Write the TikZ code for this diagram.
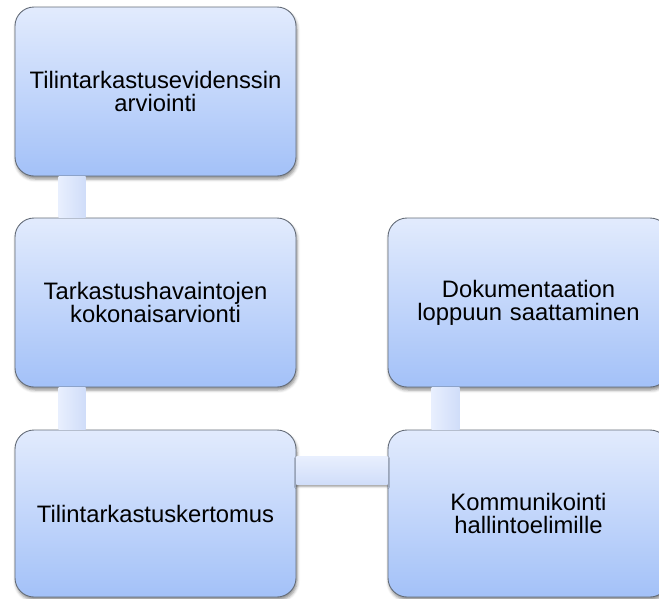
\documentclass[tikz,border=0pt]{standalone}
\usepackage{fontspec}
\setmainfont{Liberation Sans}
\usetikzlibrary{shadows.blur}
\definecolor{boxtop}{RGB}{226,235,253}
\definecolor{boxbot}{RGB}{163,193,248}
\definecolor{boxline}{RGB}{100,108,120}
\definecolor{conna}{RGB}{232,239,254}
\definecolor{connb}{RGB}{208,221,249}
\tikzset{
  stepbox/.style={draw=boxline, line width=0.9pt, rounded corners=19pt,
    top color=boxtop, bottom color=boxbot,
    minimum width=281pt, minimum height=169pt, inner sep=0pt,
    align=center, text width=270pt,
    font=\fontsize{23.8pt}{23pt}\selectfont,
    blur shadow={shadow xshift=1pt, shadow yshift=-3pt, shadow blur radius=3pt, shadow opacity=45}},
  vconn/.style={left color=conna, right color=connb},
  hconn/.style={top color=conna, bottom color=connb,
    blur shadow={shadow xshift=0pt, shadow yshift=-2pt, shadow blur radius=2pt, shadow opacity=40}},
}
\begin{document}
\begin{tikzpicture}[x=1pt,y=-1pt]
\useasboundingbox (0,0) rectangle (659,598);
\clip (0,0) rectangle (659,598);
\node[stepbox] (b1) at (155.5,91.5) {Tilintarkastusevidenssin\\arviointi};
\node[stepbox] (b2) at (155.5,302.5) {Tarkastushavaintojen\\kokonaisarvionti};
\node[stepbox, minimum height=167pt] (b3) at (155.5,513.5) {Tilintarkastuskertomus};
\node[stepbox] (b4) at (528.5,302.5) {Dokumentaation\\loppuun saattaminen};
\node[stepbox, minimum height=167pt] (b5) at (528.5,513.5) {Kommunikointi\\hallintoelimille};
\path[vconn] ([xshift=44pt]b1.south west) rectangle ([xshift=71pt]b2.north west);
\path[vconn] ([xshift=44pt]b2.south west) rectangle ([xshift=71pt]b3.north west);
\path[vconn] ([xshift=44pt]b4.south west) rectangle ([xshift=72pt]b5.north west);
\path[hconn] ([yshift=-27pt]b3.north east) rectangle ([yshift=-55pt]b5.north west);
\end{tikzpicture}
\end{document}
